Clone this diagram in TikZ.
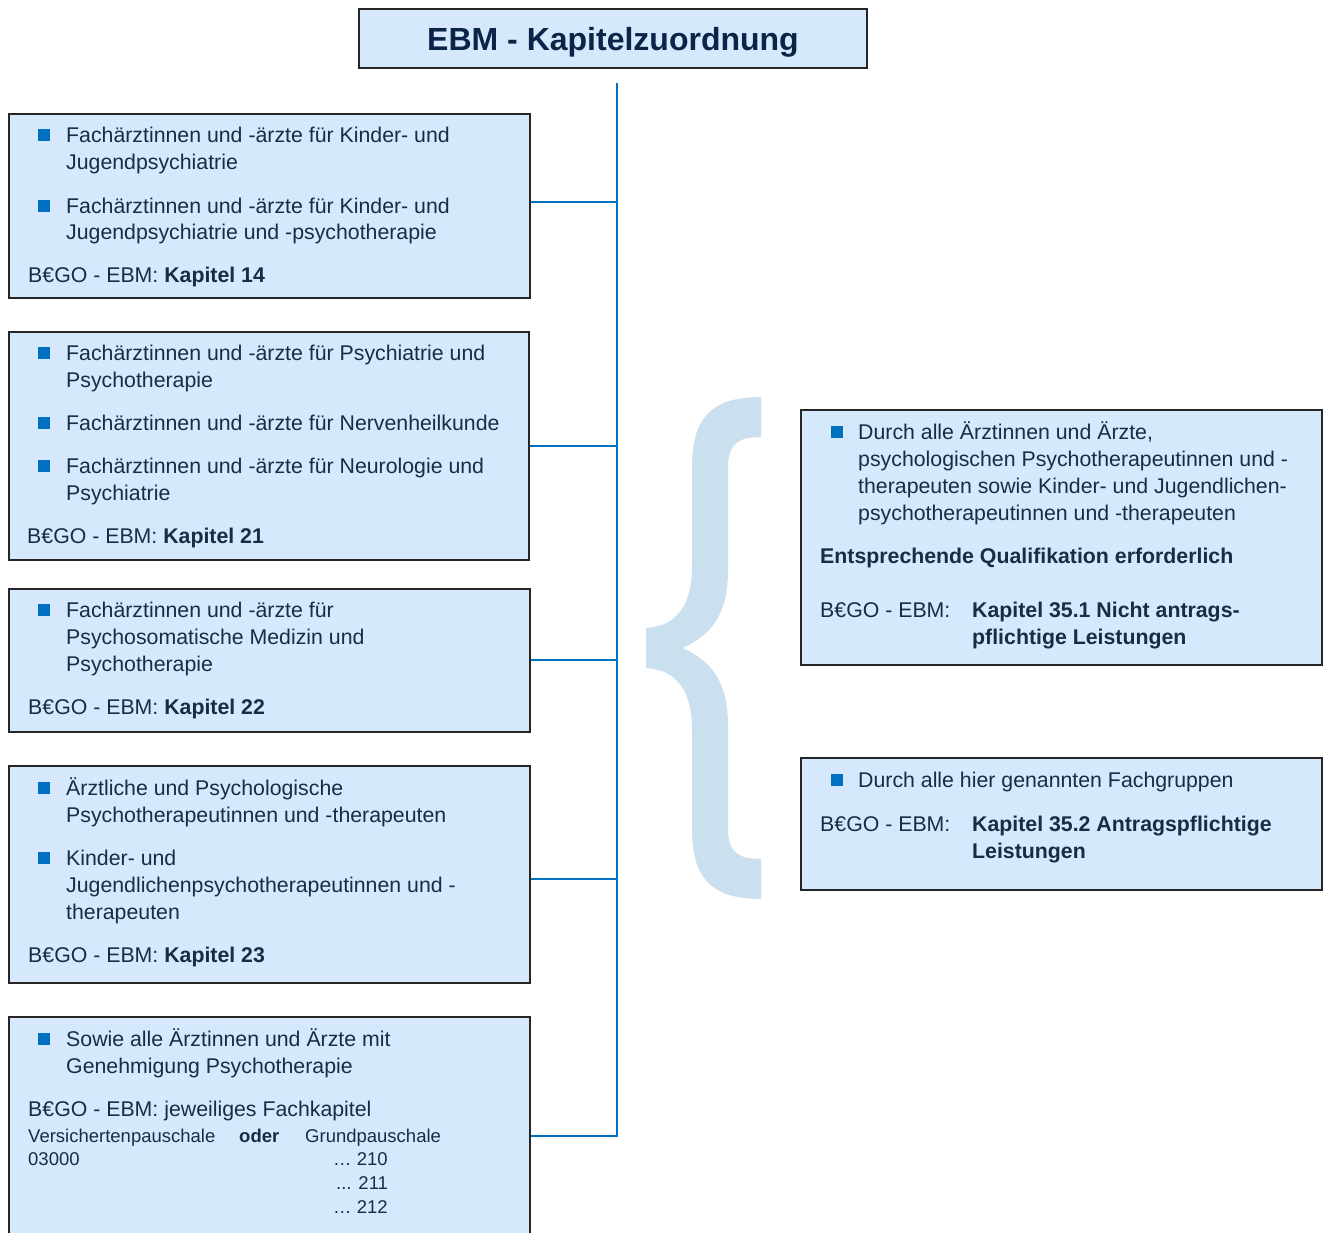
\documentclass[tikz,border=0pt]{standalone}
\usepackage{fontspec}
\setmainfont{Liberation Sans}
\definecolor{boxfill}{HTML}{D6E8FB}
\definecolor{lineblue}{HTML}{0070C0}
\definecolor{bulletblue}{HTML}{0070C0}
\definecolor{textnavy}{HTML}{1A2B48}
\definecolor{titlenavy}{HTML}{0A2548}
\definecolor{bracecol}{HTML}{CBE0EE}
\begin{document}
\begin{tikzpicture}[x=1pt,y=-1pt,
  box/.style={draw=black!85, line width=1.8pt, fill=boxfill, inner sep=0pt, anchor=north west},
  conn/.style={draw=lineblue, line width=2pt},
  txt/.style={anchor=base west, inner sep=0pt, font=\fontsize{21.3}{27}\selectfont, text=textnavy},
  smalltxt/.style={anchor=base west, inner sep=0pt, font=\fontsize{18.5}{24}\selectfont, text=textnavy},
  bul/.style={fill=bulletblue, minimum size=12pt, inner sep=0pt, draw=none}]
\useasboundingbox (0,0) rectangle (1325,1232);
\fill[white] (0,0) rectangle (1325,1232);

% title
\node[box, anchor=center, minimum width=508pt, minimum height=59pt, text height=23pt, text depth=0pt,
      font=\fontsize{32}{36}\selectfont\bfseries, text=titlenavy] (title) at (613,38.5) {EBM - Kapitelzuordnung};

% left boxes
\node[box, minimum width=521pt, minimum height=184pt] (b1) at (8,113) {};
\node[box, minimum width=520pt, minimum height=228pt] (b2) at (8,331) {};
\node[box, minimum width=521pt, minimum height=143pt] (b3) at (8,588) {};
\node[box, minimum width=521pt, minimum height=217pt] (b4) at (8,765) {};
\node[box, minimum width=521pt, minimum height=240pt] (b5) at (8,1016) {};

% right boxes
\node[box, minimum width=521pt, minimum height=255pt] (r1) at (800,409) {};
\node[box, minimum width=521pt, minimum height=132pt] (r2) at (800,757) {};

% connectors
\coordinate (ttop) at (617,83);
\coordinate (tbot) at (617,1136);
\draw[conn] (ttop) -- (tbot) -- (b5.east |- tbot);
\draw[conn] (b1.east |- 0,202) -- (ttop |- 0,202);
\draw[conn] (b2.east) -- (b2.east -| ttop);
\draw[conn] (b3.east) -- (b3.east -| ttop);
\draw[conn] (b4.east |- 0,879) -- (ttop |- 0,879);

% brace
\fill[bracecol] (761,397) .. controls (716,397) and (692,414) .. (692,466)
  -- (692,566) .. controls (692,604) and (678,626) .. (646,628)
  -- (646,668) .. controls (678,670) and (692,692) .. (692,730)
  -- (692,830) .. controls (692,882) and (716,899) .. (761,899)
  -- (761,859) .. controls (738,859) and (728,852) .. (728,828)
  -- (728,726) .. controls (728,680) and (710,660) .. (682,648)
  .. controls (710,636) and (728,616) .. (728,570)
  -- (728,468) .. controls (728,444) and (738,437) .. (761,437) -- cycle;

% box 1 text
\node[bul] (b1u1) at (44,135) {};
\node[txt] (b1t1) at (66,142.5) {Fachärztinnen und -ärzte für Kinder- und};
\node[txt] (b1t2) at (66,169.5) {Jugendpsychiatrie};
\node[bul] (b1u2) at (44,206) {};
\node[txt] (b1t3) at (66,213.5) {Fachärztinnen und -ärzte für Kinder- und};
\node[txt] (b1t4) at (66,239.5) {Jugendpsychiatrie und -psychotherapie};
\node[txt] (b1k) at (28,282.5) {B€GO - EBM: \textbf{Kapitel 14}};

% box 2 text
\node[bul] (b2u1) at (44,353) {};
\node[txt] (b2t1) at (66,360.5) {Fachärztinnen und -ärzte für Psychiatrie und};
\node[txt] (b2t2) at (66,387.5) {Psychotherapie};
\node[bul] (b2u2) at (44,423) {};
\node[txt] (b2t3) at (66,430.5) {Fachärztinnen und -ärzte für Nervenheilkunde};
\node[bul] (b2u3) at (44,466) {};
\node[txt] (b2t4) at (66,473.5) {Fachärztinnen und -ärzte für Neurologie und};
\node[txt] (b2t5) at (66,500.5) {Psychiatrie};
\node[txt] (b2k) at (27,543.5) {B€GO - EBM: \textbf{Kapitel 21}};

% box 3 text
\node[bul] (b3u1) at (44,610) {};
\node[txt] (b3t1) at (66,617.5) {Fachärztinnen und -ärzte für};
\node[txt] (b3t2) at (66,644.5) {Psychosomatische Medizin und};
\node[txt] (b3t3) at (66,671.5) {Psychotherapie};
\node[txt] (b3k) at (28,714.5) {B€GO - EBM: \textbf{Kapitel 22}};

% box 4 text
\node[bul] (b4u1) at (44,788) {};
\node[txt] (b4t1) at (66,795.5) {Ärztliche und Psychologische};
\node[txt] (b4t2) at (66,822.5) {Psychotherapeutinnen und -therapeuten};
\node[bul] (b4u2) at (44,858) {};
\node[txt] (b4t3) at (66,865.5) {Kinder- und};
\node[txt] (b4t4) at (66,892.5) {Jugendlichenpsychotherapeutinnen und -};
\node[txt] (b4t5) at (66,919.5) {therapeuten};
\node[txt] (b4k) at (28,962.5) {B€GO - EBM: \textbf{Kapitel 23}};

% box 5 text
\node[bul] (b5u1) at (44,1039) {};
\node[txt] (b5t1) at (66,1046.5) {Sowie alle Ärztinnen und Ärzte mit};
\node[txt] (b5t2) at (66,1073.5) {Genehmigung Psychotherapie};
\node[txt] (b5k) at (28,1116.5) {B€GO - EBM: jeweiliges Fachkapitel};
\node[smalltxt] (b5s1) at (28,1142) {Versichertenpauschale};
\node[smalltxt] (b5s2) at (239,1142) {\textbf{oder}};
\node[smalltxt] (b5s3) at (305,1142) {Grundpauschale};
\node[smalltxt] (b5s4) at (28,1165) {03000};
\node[smalltxt] (b5s5) at (333,1165) {… 210};
\node[smalltxt] (b5s6) at (336,1189) {... 211};
\node[smalltxt] (b5s7) at (333,1213) {… 212};

% right box 1 text
\node[bul] (r1u1) at (837,432) {};
\node[txt] (r1t1) at (858,439.5) {Durch alle Ärztinnen und Ärzte,};
\node[txt] (r1t2) at (858,466.5) {psychologischen Psychotherapeutinnen und -};
\node[txt] (r1t3) at (858,493.5) {therapeuten sowie Kinder- und Jugendlichen-};
\node[txt] (r1t4) at (858,520.5) {psychotherapeutinnen und -therapeuten};
\node[txt] (r1q) at (820,563.5) {\textbf{Entsprechende Qualifikation erforderlich}};
\node[txt] (r1b) at (820,617.5) {B€GO - EBM:};
\node[txt] (r1k1) at (972,617.5) {\textbf{Kapitel 35.1 Nicht antrags-}};
\node[txt] (r1k2) at (972,644.5) {\textbf{pflichtige Leistungen}};

% right box 2 text
\node[bul] (r2u1) at (837,780) {};
\node[txt] (r2t1) at (858,787.5) {Durch alle hier genannten Fachgruppen};
\node[txt] (r2b) at (820,831.5) {B€GO - EBM:};
\node[txt] (r2k1) at (972,831.5) {\textbf{Kapitel 35.2 Antragspflichtige}};
\node[txt] (r2k2) at (972,858.5) {\textbf{Leistungen}};
\end{tikzpicture}
\end{document}
